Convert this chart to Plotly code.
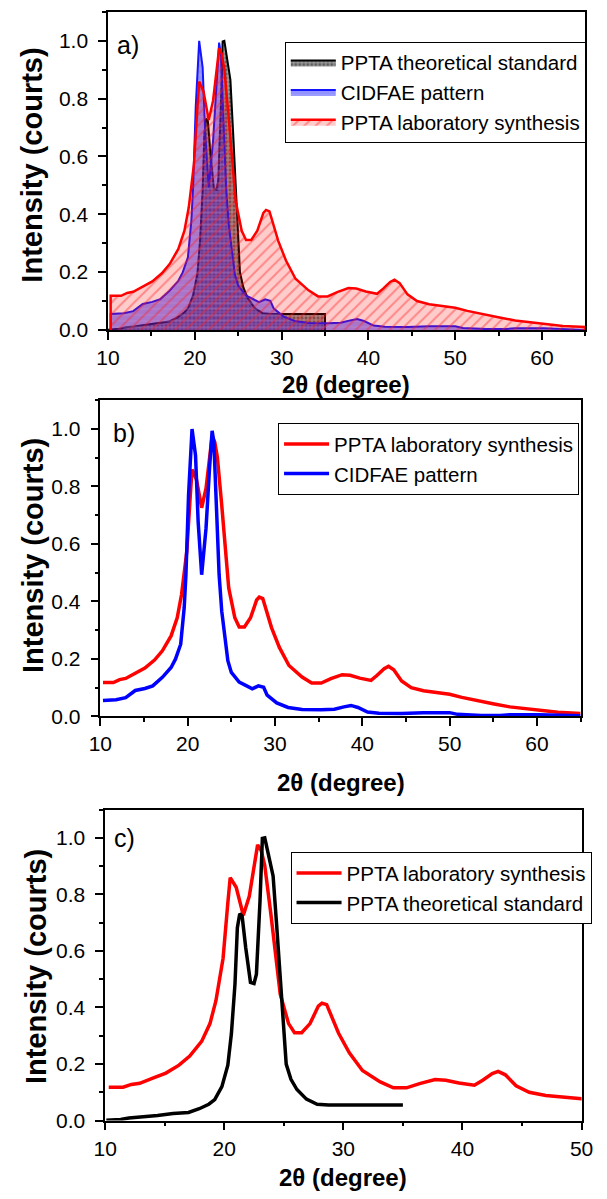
import plotly.graph_objects as go

# ---------------- data ----------------
lab_x = [10.3, 11.5, 12.2, 12.9, 14.0, 15.1, 16.2, 17.1, 18.1, 18.8, 19.3, 19.9, 20.3, 20.5,
         21.0, 21.6, 22.1, 22.5, 22.8, 23.1, 23.4, 23.9, 24.3, 24.7, 25.4, 25.9, 26.5, 27.2,
         27.9, 28.2, 28.6, 29.6, 30.5, 31.6, 33.1, 34.2, 35.3, 36.4, 37.7, 38.6, 39.7, 41.0,
         41.7, 42.5, 43.0, 43.6, 44.5, 45.6, 47.0, 48.5, 50.0, 51.4, 53.3, 55.1, 56.9, 58.8,
         61.0, 62.4, 65.0]
lab_y = [0.118, 0.118, 0.128, 0.132, 0.150, 0.168, 0.196, 0.228, 0.280, 0.343, 0.424, 0.574,
         0.770, 0.859, 0.825, 0.726, 0.793, 0.900, 0.975, 0.955, 0.902, 0.735, 0.580, 0.447,
         0.343, 0.311, 0.311, 0.343, 0.405, 0.415, 0.410, 0.309, 0.240, 0.177, 0.137, 0.116,
         0.116, 0.131, 0.145, 0.143, 0.133, 0.125, 0.143, 0.166, 0.174, 0.162, 0.123, 0.100,
         0.089, 0.082, 0.077, 0.066, 0.053, 0.043, 0.033, 0.026, 0.020, 0.014, 0.010]

cid_x = [10.3, 11.8, 12.9, 14.0, 15.1, 16.0, 17.1, 18.1, 18.6, 19.2, 19.6, 19.8, 20.1, 20.5,
         20.9, 21.2, 21.6, 22.1, 22.5, 22.8, 23.0, 23.3, 23.6, 23.9, 24.3, 24.6, 25.0, 25.9,
         26.7, 27.4, 28.1, 28.7, 29.1, 30.2, 31.5, 33.1, 35.3, 36.8, 37.9, 38.7, 39.5, 40.6,
         41.9, 44.5, 47.0, 50.0, 50.9, 53.6, 55.8, 56.9, 60.2, 63.2, 65.0]
cid_y = [0.055, 0.058, 0.065, 0.090, 0.097, 0.106, 0.136, 0.170, 0.199, 0.251, 0.378, 0.493,
         0.770, 1.000, 0.908, 0.677, 0.493, 0.654, 0.862, 0.994, 0.954, 0.712, 0.493, 0.366,
         0.263, 0.194, 0.153, 0.119, 0.107, 0.096, 0.106, 0.101, 0.074, 0.047, 0.031, 0.024,
         0.023, 0.025, 0.033, 0.038, 0.031, 0.015, 0.011, 0.010, 0.013, 0.013, 0.007, 0.003,
         0.003, 0.006, 0.006, 0.003, 0.002]

std_x = [10.1, 11.3, 12.0, 13.0, 14.4, 15.7, 17.0, 17.9, 18.7, 19.2, 19.8, 20.3, 20.6, 20.9,
         21.1, 21.3, 21.5, 21.8, 22.2, 22.5, 22.7, 23.0, 23.2, 23.4, 24.1, 24.4, 24.75, 25.0,
         25.2, 25.6, 26.1, 26.9, 27.8, 28.75, 35.0]
std_y = [0.001, 0.004, 0.009, 0.012, 0.018, 0.025, 0.029, 0.042, 0.058, 0.074, 0.120, 0.196,
         0.308, 0.483, 0.682, 0.731, 0.723, 0.612, 0.489, 0.485, 0.518, 0.775, 0.998, 1.000,
         0.865, 0.690, 0.460, 0.340, 0.200, 0.146, 0.110, 0.076, 0.058, 0.055, 0.055]

NAME_STD = "PPTA theoretical standard"
NAME_CID = "CIDFAE pattern"
NAME_LAB = "PPTA laboratory synthesis"
panel_labels = ["a)", "b)", "c)"]
x_title = "2θ (degree)"
y_title = "Intensity (courts)"
y_ticks = [0.0, 0.2, 0.4, 0.6, 0.8, 1.0]

# ---------------- layout geometry ----------------
W, H = 607, 1199
FONT = "Liberation Sans, Arial, sans-serif"

def xd(l, r):
    return [l / W, r / W]

def yd(t, b):
    return [1 - b / H, 1 - t / H]

panels = {
    "a": dict(x=xd(100, 597), y=yd(12, 333), xr=[10, 65], xt=[10, 20, 30, 40, 50, 60]),
    "b": dict(x=xd(92, 592), y=yd(404, 723), xr=[10, 65], xt=[10, 20, 30, 40, 50, 60]),
    "c": dict(x=xd(97, 593), y=yd(817, 1131), xr=[10, 50], xt=[10, 20, 30, 40, 50]),
}

fig = go.Figure()

def closed(xs, ys):
    return [xs[0]] + xs + [xs[-1]], [0] + ys + [0]

# ---- panel a: filled areas ----
sx, sy = closed(std_x, std_y)
fig.add_trace(go.Scatter(x=sx, y=sy, mode="lines", fill="toself", name=NAME_STD,
                         line=dict(color="black", width=2),
                         fillcolor="rgba(60,60,60,0.6)",
                         fillpattern=dict(shape=".", fgcolor="rgba(10,10,10,0.85)",
                                          bgcolor="rgba(90,90,90,0.6)", size=4, solidity=0.45),
                         xaxis="x", yaxis="y", legend="legend"))
cx, cy = closed(cid_x, cid_y)
fig.add_trace(go.Scatter(x=cx, y=cy, mode="lines", fill="toself", name=NAME_CID,
                         line=dict(color="rgb(20,20,255)", width=2),
                         fillcolor="rgba(40,40,255,0.5)",
                         fillpattern=dict(shape="-", fgcolor="rgba(190,190,255,0.6)",
                                          bgcolor="rgba(40,40,255,0.5)", size=6, solidity=0.25),
                         xaxis="x", yaxis="y", legend="legend"))
lx, ly = closed(lab_x, lab_y)
fig.add_trace(go.Scatter(x=lx, y=ly, mode="lines", fill="toself", name=NAME_LAB,
                         line=dict(color="red", width=2.5),
                         fillcolor="rgba(255,0,0,0.18)",
                         fillpattern=dict(shape="/", fgcolor="rgba(255,30,30,0.8)",
                                          bgcolor="rgba(255,0,0,0.2)", size=8, solidity=0.25),
                         xaxis="x", yaxis="y", legend="legend"))

# ---- panel b ----
fig.add_trace(go.Scatter(x=lab_x, y=lab_y, mode="lines", name=NAME_LAB,
                         line=dict(color="red", width=3.5), xaxis="x2", yaxis="y2",
                         legend="legend2"))
fig.add_trace(go.Scatter(x=cid_x, y=cid_y, mode="lines", name=NAME_CID,
                         line=dict(color="blue", width=3.5), xaxis="x2", yaxis="y2",
                         legend="legend2"))

# ---- panel c ----
fig.add_trace(go.Scatter(x=lab_x, y=lab_y, mode="lines", name=NAME_LAB,
                         line=dict(color="red", width=3.5), xaxis="x3", yaxis="y3",
                         legend="legend3"))
fig.add_trace(go.Scatter(x=std_x, y=std_y, mode="lines", name=NAME_STD,
                         line=dict(color="black", width=3.5), xaxis="x3", yaxis="y3",
                         legend="legend3"))

def xaxis(p, anchor):
    return dict(domain=p["x"], range=p["xr"], tickvals=p["xt"], anchor=anchor,
                showline=True, mirror=True, linecolor="black", linewidth=1.5,
                ticks="outside", ticklen=8, tickwidth=1.5, tickcolor="black",
                minor=dict(dtick=5, ticks="outside", ticklen=4, tickwidth=1.5, tickcolor="black"),
                showgrid=False, zeroline=False, ticklabelstandoff=0,
                tickfont=dict(family=FONT, size=21, color="black"))

def yaxis(p, anchor):
    return dict(domain=p["y"], range=[0, 1.1], tickvals=y_ticks, anchor=anchor,
                tickformat=".1f",
                showline=True, mirror=True, linecolor="black", linewidth=1.5,
                ticks="outside", ticklen=8, tickwidth=1.5, tickcolor="black",
                minor=dict(dtick=0.1, ticks="outside", ticklen=4, tickwidth=1.5, tickcolor="black"),
                showgrid=False, zeroline=False, ticklabelstandoff=6,
                tickfont=dict(family=FONT, size=21, color="black"))

leg_common = dict(bgcolor="white", bordercolor="black", borderwidth=1,
                  font=dict(family=FONT, size=20.5, color="black"),
                  xanchor="left", yanchor="top", tracegroupgap=0, itemwidth=45,
                  traceorder="normal")

fig.update_layout(
    width=W, height=H, margin=dict(l=0, r=0, t=0, b=0),
    paper_bgcolor="white", plot_bgcolor="white",
    xaxis=xaxis(panels["a"], "y"), yaxis=yaxis(panels["a"], "x"),
    xaxis2=xaxis(panels["b"], "y2"), yaxis2=yaxis(panels["b"], "x2"),
    xaxis3=xaxis(panels["c"], "y3"), yaxis3=yaxis(panels["c"], "x3"),
    legend=dict(x=284 / W, y=1 - 42 / H, **leg_common),
    legend2=dict(x=277 / W, y=1 - 427 / H, **leg_common),
    legend3=dict(x=290 / W, y=1 - 860 / H, **leg_common),
    showlegend=True,
)

ann = []
# panel labels
for lab, (px, py) in zip(panel_labels, [(107, 45), (103, 437), (104, 846)]):
    ann.append(dict(text=lab, x=px / W, y=1 - py / H, xref="paper", yref="paper",
                    xanchor="left", yanchor="middle", showarrow=False,
                    font=dict(family=FONT, size=25, color="black")))
# axis titles
for (px, py) in [(348, 388), (343, 790), (345, 1188)]:
    ann.append(dict(text="<b>" + x_title + "</b>", x=px / W, y=1 - py / H, xref="paper",
                    yref="paper", xanchor="center", yanchor="middle", showarrow=False,
                    font=dict(family=FONT, size=24, color="black")))
for (px, py) in [(21, 167), (22, 561), (25, 976)]:
    ann.append(dict(text="<b>" + y_title + "</b>", x=px / W, y=1 - py / H, xref="paper",
                    yref="paper", xanchor="center", yanchor="middle", showarrow=False,
                    textangle=-90, font=dict(family=FONT, size=29, color="black")))
fig.update_layout(annotations=ann)

fig.write_html("out.html")
